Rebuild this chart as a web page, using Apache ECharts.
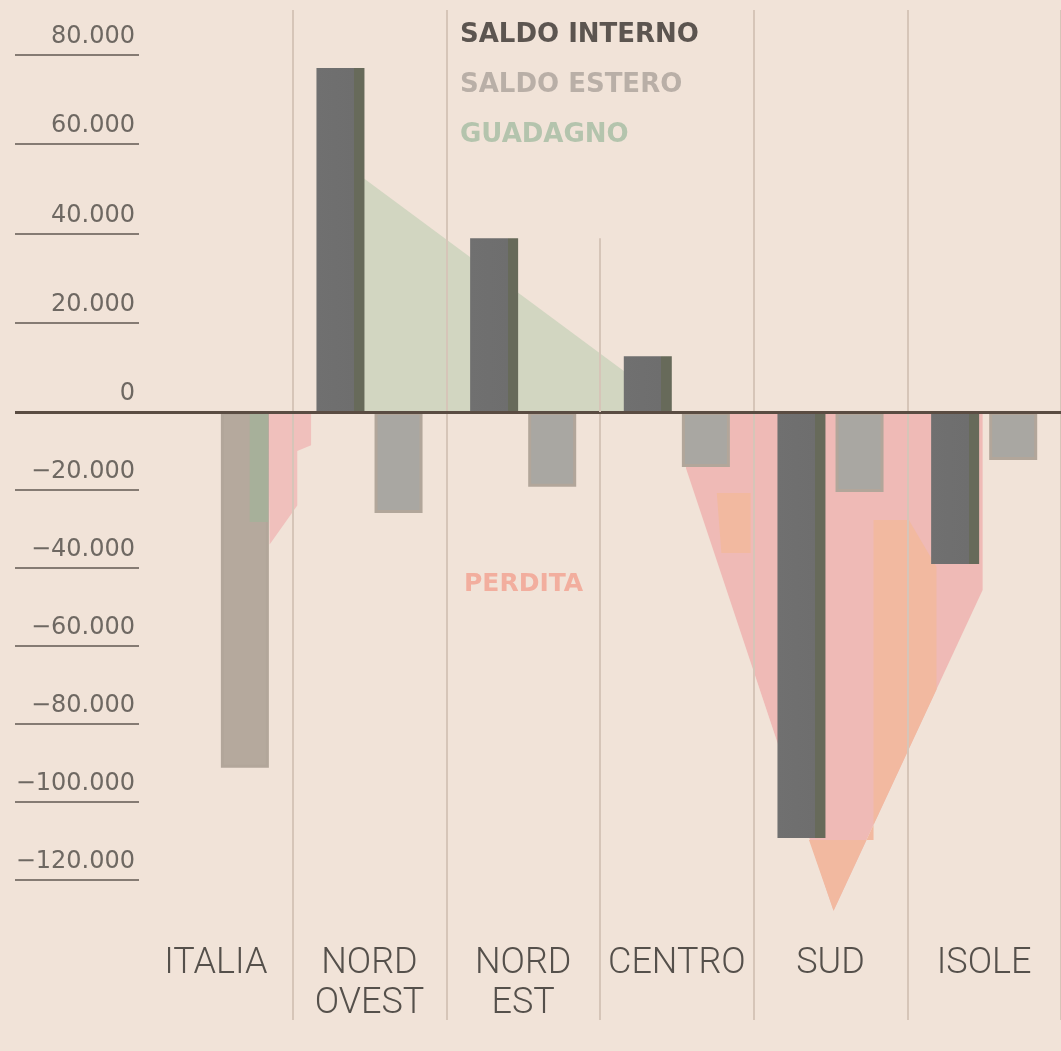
<!DOCTYPE html>
<html>
<head>
<meta charset="utf-8">
<script src="https://cdn.jsdelivr.net/npm/echarts@6/dist/echarts.min.js"></script>
<style>
  html, body { margin: 0; padding: 0; background: #f1e3d8; }
  #main { width: 1061px; height: 1051px; }
</style>
</head>
<body>
<div id="main"></div>
<script>
var categories = ['ITALIA', 'NORD\nOVEST', 'NORD\nEST', 'CENTRO', 'SUD', 'ISOLE'];
var saldoInterno = [0, 77000, 38900, 12500, -109300, -39000];
var saldoEstero = [-91300, -25900, -19200, -14100, -20500, -12300];

// aree: vertici [posizione sull'asse delle categorie, valore]
var guadagno = [[0.96, 0], [0.96, 52400], [2.69, 8300], [2.69, 0]];
var guadagnoItalia = [[0.22, 0], [0.34, 0], [0.34, -28200], [0.22, -28200]];
var perdita = [[3.06, 0], [3.06, -14500], [4.02, -128000], [4.99, -45700], [4.99, 0]];
var perditaSalmone = [[4.28, -27700], [4.51, -27700], [4.69, -39800], [4.69, -71200], [4.02, -128000], [3.86, -109800], [4.28, -109800]];
var perditaSalmone2 = [[3.26, -20800], [3.48, -20800], [3.48, -36200], [3.29, -36200]];
var perditaItalia = [[0.34, 0], [0.62, 0], [0.62, -8500], [0.53, -10000], [0.53, -24000], [0.35, -34000]];

var tickPos = [0, 20000, 40000, 60000, 80000];
var tickNeg = [-120000, -100000, -80000, -60000, -40000, -20000];

var chart = echarts.init(document.getElementById('main'));

function fmt(v) {
  if (v === 0) return '0';
  var s = String(Math.abs(v)).replace(/\B(?=(\d{3})+(?!\d))/g, '.');
  return (v < 0 ? '\u2212' : '') + s;
}

function split(arr, positive) {
  return arr.map(function (v) {
    if (positive) return v > 0 ? v : null;
    return v < 0 ? v : null;
  });
}

function area(name, pts, color, xi, yi, z) {
  return {
    name: name,
    type: 'custom',
    xAxisIndex: xi,
    yAxisIndex: yi,
    z: z,
    silent: true,
    data: pts,
    renderItem: function (params, api) {
      if (params.dataIndex !== 0) return null;
      return {
        type: 'polygon',
        shape: { points: pts.map(function (p) { return api.coord(p); }) },
        style: { fill: color }
      };
    }
  };
}

var gridLine = { color: '#d6c5b8', width: 2 };
var tickLine = { color: '#857b73', width: 2 };
var labelStyle = {
  fontFamily: 'DejaVu Sans',
  fontSize: 24,
  color: '#6e6862',
  verticalAlign: 'bottom',
  padding: [0, 0, 6, 0],
  margin: 4,
  formatter: fmt
};

var internoColor = new echarts.graphic.LinearGradient(0, 0, 1, 0, [
  { offset: 0, color: '#707070' },
  { offset: 0.78, color: '#6e6e6e' },
  { offset: 0.78, color: '#676a5a' },
  { offset: 1, color: '#676a5a' }
]);
var esteroStyle = {
  color: function (p) { return p.dataIndex === 0 ? '#b5a99d' : '#a9a7a2'; },
  borderColor: '#b2a69a',
  borderWidth: 3
};

var option = {
  backgroundColor: '#f1e3d8',
  animation: false,
  legend: [
    {
      left: 450,
      top: 17,
      orient: 'vertical',
      icon: 'none',
      itemWidth: 0,
      itemHeight: 20,
      itemGap: 24,
      selectedMode: false,
      textStyle: { fontFamily: 'DejaVu Sans', fontWeight: 'bold', fontSize: 26 },
      data: [
        { name: 'SALDO INTERNO', textStyle: { color: '#5c5550' } },
        { name: 'SALDO ESTERO', textStyle: { color: '#b9afa7' } },
        { name: 'GUADAGNO', textStyle: { color: '#b4c4ad' } }
      ]
    },
    {
      left: 454,
      top: 567,
      icon: 'none',
      itemWidth: 0,
      selectedMode: false,
      textStyle: { fontFamily: 'DejaVu Sans', fontWeight: 'bold', fontSize: 25 },
      data: [{ name: 'PERDITA', textStyle: { color: '#f2ae9e' } }]
    }
  ],
  grid: [
    { left: 139, width: 924, top: 10, height: 402 },
    { left: 139, width: 924, top: 412, height: 608 }
  ],
  xAxis: [
    {
      type: 'category', gridIndex: 0, data: categories, z: 3,
      axisLine: { show: true, onZero: true, lineStyle: { color: '#5a4c42', width: 3 } },
      axisTick: { show: false },
      axisLabel: { show: false },
      splitLine: {
        show: true, lineStyle: gridLine,
        interval: function (i) { return i === 1 || i === 2 || i === 4 || i === 5; }
      }
    },
    { type: 'value', gridIndex: 0, min: -0.5, max: 5.5, show: false },
    {
      type: 'category', gridIndex: 1, data: categories, z: 3,
      position: 'bottom', offset: -76,
      axisLine: { show: false, onZero: false },
      axisTick: { show: false },
      axisLabel: {
        margin: 0, interval: 0,
        fontFamily: 'Roboto', fontWeight: 300, fontSize: 36, lineHeight: 40,
        color: '#55504b'
      },
      splitLine: {
        show: true, lineStyle: gridLine,
        interval: function (i) { return i >= 1 && i <= 5; }
      }
    },
    { type: 'value', gridIndex: 1, min: -0.5, max: 5.5, show: false }
  ],
  yAxis: [
    {
      type: 'value', gridIndex: 0, min: 0, max: 90000, position: 'left',
      axisLine: { show: false, onZero: false },
      axisTick: { show: true, length: 124, customValues: tickPos.slice(1), lineStyle: tickLine },
      axisLabel: Object.assign({ customValues: tickPos }, labelStyle),
      splitLine: { show: false }
    },
    {
      type: 'value', gridIndex: 1, min: -156000, max: 0, position: 'left',
      axisLine: { show: false, onZero: false },
      axisTick: { show: true, length: 124, customValues: tickNeg, lineStyle: tickLine },
      axisLabel: Object.assign({ customValues: tickNeg }, labelStyle),
      splitLine: { show: false }
    },
    {
      type: 'value', gridIndex: 0, min: 0, max: 90000, position: 'left',
      axisLine: { show: false, onZero: false },
      axisTick: { show: true, length: 124, customValues: [0], lineStyle: { color: '#5a4c42', width: 3 } },
      axisLabel: { show: false },
      splitLine: { show: false }
    }
  ],
  series: [
    area('GUADAGNO', guadagno, '#d2d6c1', 1, 0, 1),
    area('PERDITA', perdita, '#efbab6', 3, 1, 1),
    area('PERDITA', perditaSalmone, '#f2b9a0', 3, 1, 1),
    area('PERDITA', perditaSalmone2, '#f2b9a0', 3, 1, 1),
    area('PERDITA', perditaItalia, '#f0c0bc', 3, 1, 1),
    {
      type: 'line', xAxisIndex: 1, yAxisIndex: 0, z: 3, silent: true,
      symbol: 'none', lineStyle: gridLine,
      data: [[2.5, 0], [2.5, saldoInterno[2]]]
    },
    {
      name: 'SALDO INTERNO', type: 'bar', xAxisIndex: 0, yAxisIndex: 0,
      barWidth: 48, barGap: '21%', itemStyle: { color: internoColor },
      data: split(saldoInterno, true)
    },
    {
      name: 'SALDO ESTERO', type: 'bar', xAxisIndex: 0, yAxisIndex: 0,
      barWidth: 48, barGap: '21%', itemStyle: esteroStyle,
      data: split(saldoEstero, true)
    },
    {
      name: 'SALDO INTERNO', type: 'bar', xAxisIndex: 2, yAxisIndex: 1,
      barWidth: 48, barGap: '21%', itemStyle: { color: internoColor },
      data: split(saldoInterno, false)
    },
    {
      name: 'SALDO ESTERO', type: 'bar', xAxisIndex: 2, yAxisIndex: 1,
      barWidth: 48, barGap: '21%', itemStyle: esteroStyle,
      data: split(saldoEstero, false)
    },
    area('GUADAGNO', guadagnoItalia, '#a7b09a', 3, 1, 2.5)
  ]
};

chart.setOption(option);
</script>
</body>
</html>
